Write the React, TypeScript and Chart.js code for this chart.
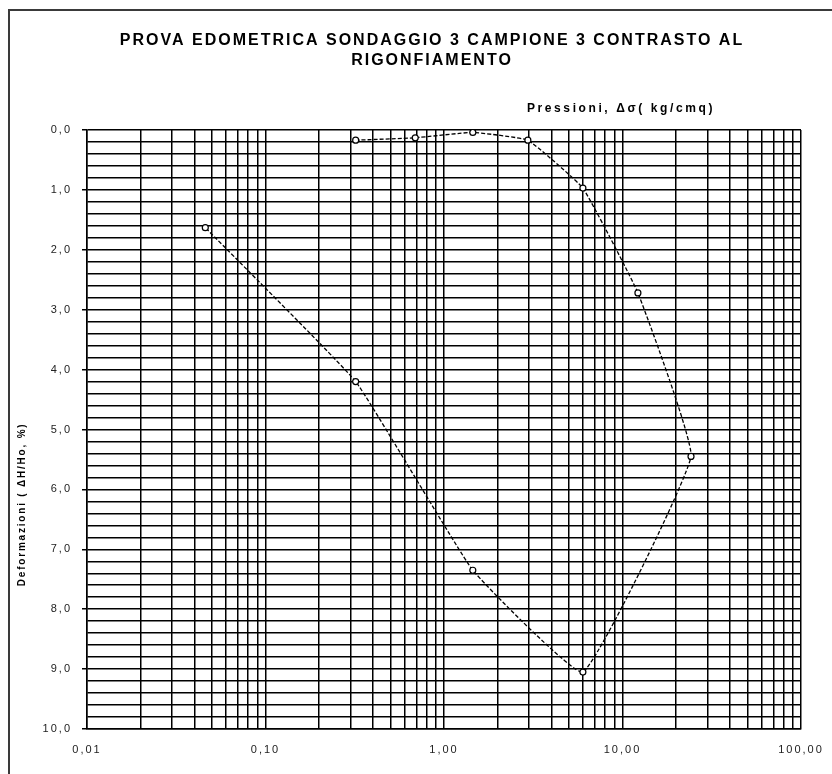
import { useEffect, useRef } from "react";
import { Chart, registerables } from "chart.js";

Chart.register(...registerables);

// ---- text ----
const titleLines = [
  "PROVA EDOMETRICA SONDAGGIO 3 CAMPIONE 3 CONTRASTO AL",
  "RIGONFIAMENTO",
];
const xAxisTitle = "Pressioni, Δσ( kg/cmq)";
const yAxisTitle = "Deformazioni ( ΔH/Ho, %)";

// ---- data (pressure kg/cmq, deformation %) ----
const pressures = [0.32, 0.69, 1.45, 2.95, 6.0, 12.2, 24.2, 6.0, 1.45, 0.32, 0.046];
const deformations = [0.17, 0.13, 0.04, 0.17, 0.97, 2.72, 5.45, 9.05, 7.35, 4.2, 1.63];

// ---- axes ----
const xDecades = [0.01, 0.1, 1, 10, 100];
const xDecadeLabels = ["0,01", "0,10", "1,00", "10,00", "100,00"];
const xGridMultipliers = [1, 2, 3, 4, 5, 6, 7, 8, 9];
const yMin = 0;
const yMax = 10;
const yMinorStep = 0.2;
const yMajorValues = [0, 1, 2, 3, 4, 5, 6, 7, 8, 9, 10];
const yTickLabels = ["0,0", "1,0", "2,0", "3,0", "4,0", "5,0", "6,0", "7,0", "8,0", "9,0", "10,0"];

const FONT = "'Liberation Sans', Arial, sans-serif";
const CANVAS_W = 864; // chart object is wider than the window (its right edge is cut off)
const CANVAS_H = 774;

const isMajorY = (v: number) => yMajorValues.some((m) => Math.abs(m - v) < 1e-6);

const textPlugin = {
  id: "excelText",
  beforeLayout(chart: any) {
    chart.ctx.letterSpacing = "2px";
  },
  beforeDraw(chart: any) {
    const ctx = chart.ctx;
    ctx.letterSpacing = "2px";
    ctx.save();
    ctx.fillStyle = "#fff";
    ctx.fillRect(0, 0, chart.width, chart.height);
    // outer frame of the chart object
    ctx.strokeStyle = "#3a3a3a";
    ctx.lineWidth = 2;
    ctx.beginPath();
    ctx.moveTo(9, chart.height);
    ctx.lineTo(9, 10);
    ctx.lineTo(chart.width, 10);
    ctx.stroke();
    ctx.restore();
  },
  beforeDatasetsDraw(chart: any) {
    chart.ctx.letterSpacing = "0px";
  },
  afterDraw(chart: any) {
    const ctx = chart.ctx;
    const area = chart.chartArea;
    ctx.save();
    ctx.fillStyle = "#000";
    ctx.letterSpacing = "2.6px";
    ctx.font = `bold 12px ${FONT}`;
    ctx.textAlign = "right";
    ctx.textBaseline = "middle";
    ctx.fillText(xAxisTitle, area.right - 86, area.top - 21);
    ctx.restore();

    ctx.save();
    ctx.fillStyle = "#000";
    ctx.letterSpacing = "1.8px";
    ctx.font = `bold 10px ${FONT}`;
    ctx.textAlign = "center";
    ctx.textBaseline = "middle";
    ctx.translate(22, area.top + (area.bottom - area.top) * 0.625);
    ctx.rotate(-Math.PI / 2);
    ctx.fillText(yAxisTitle, 0, 0);
    ctx.restore();
  },
};

export default function App() {
  const canvasRef = useRef<HTMLCanvasElement | null>(null);

  useEffect(() => {
    const canvas = canvasRef.current;
    if (!canvas) return;

    const points = pressures.map((p, i) => ({ x: p, y: deformations[i] }));
    const gridValues: number[] = [];
    xDecades.slice(0, -1).forEach((d) => xGridMultipliers.forEach((m) => gridValues.push(d * m)));
    gridValues.push(xDecades[xDecades.length - 1]);

    const chart = new Chart(canvas, {
      type: "scatter",
      data: {
        datasets: [
          {
            data: points,
            showLine: true,
            borderColor: "#000",
            borderWidth: 1.3,
            borderDash: [4, 2],
            tension: 0.1,
            pointRadius: 3,
            pointBackgroundColor: "#fff",
            pointBorderColor: "#000",
            pointBorderWidth: 1.2,
          },
        ],
      },
      options: {
        animation: false,
        responsive: false,
        maintainAspectRatio: false,
        layout: { padding: { left: 0, right: 0, top: 0, bottom: 0 } },
        plugins: {
          legend: { display: false },
          tooltip: { enabled: false },
          title: {
            display: true,
            text: titleLines,
            color: "#000",
            font: { family: FONT, size: 16, weight: "bold", lineHeight: 1.2 },
            padding: { top: 31.4, bottom: 60.2 },
          },
        },
        scales: {
          x: {
            type: "logarithmic",
            min: xDecades[0],
            max: xDecades[xDecades.length - 1],
            afterBuildTicks: (scale: any) => {
              scale.ticks = gridValues.map((v) => ({ value: v }));
            },
            afterFit: (scale: any) => {
              scale.height = 45;
              scale.paddingLeft = 0;
              scale.paddingRight = 0;
            },
            ticks: {
              autoSkip: false,
              maxRotation: 0,
              minRotation: 0,
              padding: 14,
              color: "#222",
              font: { family: FONT, size: 11 },
              callback: (value: any) => {
                const v = Number(value);
                const i = xDecades.findIndex((d) => Math.abs(d - v) / d < 1e-6);
                return i >= 0 ? xDecadeLabels[i] : "";
              },
            },
            grid: { color: "#000", lineWidth: 1.5, drawTicks: false },
            border: { color: "#000", width: 1.5 },
          },
          y: {
            type: "linear",
            reverse: true,
            min: yMin,
            max: yMax,
            afterFit: (scale: any) => {
              scale.width = 87;
            },
            ticks: {
              stepSize: yMinorStep,
              autoSkip: false,
              padding: 10,
              color: "#222",
              font: { family: FONT, size: 11 },
              callback: (value: any) => {
                const v = Number(value);
                const i = yMajorValues.findIndex((m) => Math.abs(m - v) < 1e-6);
                return i >= 0 ? yTickLabels[i] : "";
              },
            },
            grid: {
              color: "#000",
              lineWidth: 1.5,
              tickLength: 5,
              tickColor: (ctx: any) => (ctx.tick && isMajorY(ctx.tick.value) ? "#000" : "rgba(0,0,0,0)"),
            },
            border: { color: "#000", width: 1.5 },
          },
          yRightSpace: {
            type: "linear",
            position: "right",
            display: true,
            afterFit: (scale: any) => {
              scale.width = CANVAS_W - 801;
            },
            ticks: { display: false },
            grid: { display: false },
            border: { display: false },
          },
        },
      },
      plugins: [textPlugin],
    });

    return () => chart.destroy();
  }, []);

  return (
    <div
      style={{
        position: "absolute",
        left: 0,
        top: 0,
        width: 832,
        height: 774,
        overflow: "hidden",
        background: "#fff",
      }}
    >
      <canvas
        ref={canvasRef}
        width={CANVAS_W}
        height={CANVAS_H}
        style={{ display: "block", width: CANVAS_W, height: CANVAS_H }}
      />
    </div>
  );
}
